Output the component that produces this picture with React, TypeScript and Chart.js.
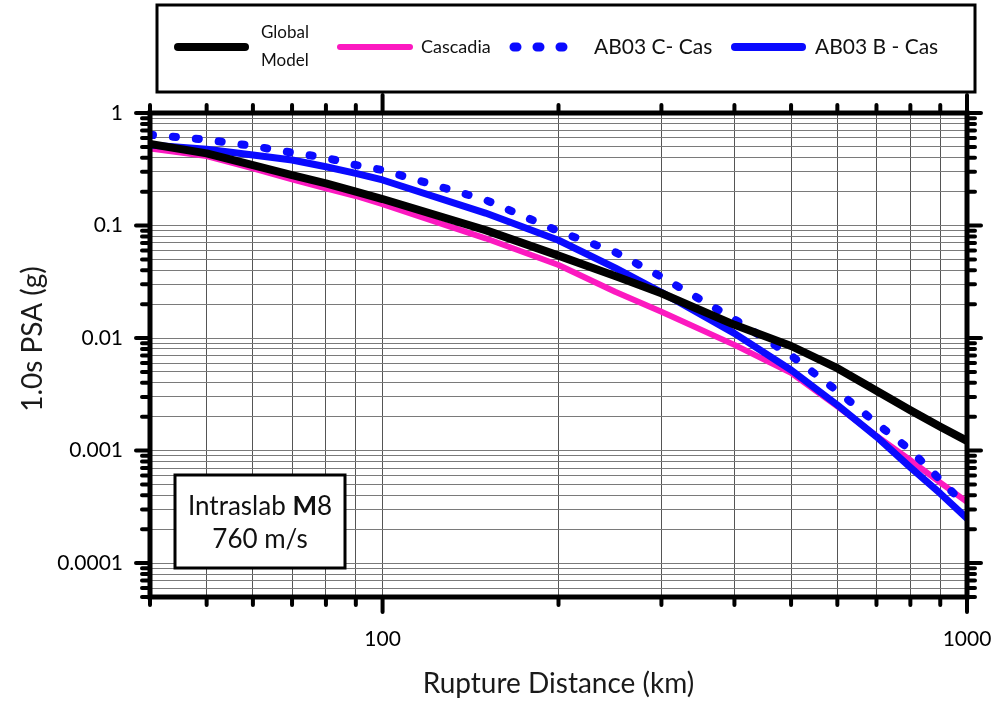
import React, { useEffect, useRef } from 'react';
import { Chart, registerables } from 'chart.js';

Chart.register(...registerables);

// ---------------- data ----------------
const distances = [40, 50, 60, 70, 80, 90, 100, 150, 200, 250, 300, 400, 500, 600, 700, 800, 900, 1000];
const globalModel = [0.53, 0.438, 0.345, 0.281, 0.237, 0.2, 0.172, 0.091, 0.054, 0.0356, 0.025, 0.0131, 0.0085, 0.0054, 0.0034, 0.00228, 0.00163, 0.00122];
const cascadia = [0.485, 0.415, 0.322, 0.257, 0.214, 0.183, 0.155, 0.077, 0.0446, 0.0258, 0.0171, 0.0087, 0.0049, 0.00247, 0.00135, 0.00082, 0.00052, 0.00035];
const ab03C = [0.64, 0.58, 0.509, 0.444, 0.4, 0.345, 0.311, 0.169, 0.089, 0.058, 0.035, 0.0147, 0.007, 0.00338, 0.00175, 0.00101, 0.00055, 0.000316];
const ab03B = [0.52, 0.476, 0.423, 0.382, 0.333, 0.291, 0.254, 0.129, 0.074, 0.042, 0.0255, 0.011, 0.0052, 0.00254, 0.00133, 0.00071, 0.000416, 0.00025];

const seriesNames = ['Global Model', 'Cascadia', 'AB03 C- Cas', 'AB03 B - Cas'];
const legendLines = [['Global', 'Model'], ['Cascadia'], ['AB03 C- Cas'], ['AB03 B - Cas']];

const xMin = 40;
const xMax = 1000;
const yMin = 0.00005;
const yMax = 1;
const xMajorTicks = [100, 1000];
const xTickLabels = ['100', '1000'];
const yMajorTicks = [1, 0.1, 0.01, 0.001, 0.0001];
const yTickLabels = ['1', '0.1', '0.01', '0.001', '0.0001'];

const xTitle = 'Rupture Distance (km)';
const yTitle = '1.0s PSA (g)';
const boxLine1 = ['Intraslab ', 'M', '8'];
const boxLine2 = '760 m/s';

// ---------------- styles ----------------
const FONT = 'Lato, "Open Sans", sans-serif';
const BLACK = '#000000';
const PINK = '#fc19c0';
const BLUE = '#0a0aff';
const DOT_DASH = [3, 20];

function logTicks(min: number, max: number): number[] {
  const out: number[] = [];
  const e0 = Math.floor(Math.log10(min));
  const e1 = Math.ceil(Math.log10(max));
  for (let e = e0; e <= e1; e++) {
    for (let m = 1; m <= 9; m++) {
      const v = Number((m * Math.pow(10, e)).toPrecision(12));
      if (v >= min * 0.9999 && v <= max * 1.0001) out.push(v);
    }
  }
  return out;
}

const xGrid = logTicks(xMin, xMax);
const yGrid = logTicks(yMin, yMax);

function near(a: number, b: number) {
  return Math.abs(a - b) <= Math.abs(b) * 1e-6;
}
function isMajor(v: number, list: number[]) {
  return list.some((m) => near(v, m));
}

const decorPlugin = {
  id: 'decor',
  afterDraw(chart: any) {
    const ctx: CanvasRenderingContext2D = chart.ctx;
    const { left, right, top, bottom } = chart.chartArea;
    const xs = chart.scales.x;
    const ys = chart.scales.y;
    ctx.save();

    // annotation box
    const bx = 175, by = 475, bw = 170, bh = 93;
    ctx.fillStyle = '#ffffff';
    ctx.fillRect(bx, by, bw, bh);
    ctx.strokeStyle = BLACK;
    ctx.lineWidth = 3;
    ctx.strokeRect(bx, by, bw, bh);
    ctx.fillStyle = '#111';
    ctx.textBaseline = 'middle';
    const f = '26px ' + FONT;
    const fb = 'bold 26px ' + FONT;
    ctx.font = f;
    const w0 = ctx.measureText(boxLine1[0]).width;
    ctx.font = fb;
    const w1 = ctx.measureText(boxLine1[1]).width;
    ctx.font = f;
    const w2 = ctx.measureText(boxLine1[2]).width;
    let tx = bx + bw / 2 - (w0 + w1 + w2) / 2;
    ctx.textAlign = 'left';
    ctx.font = f;
    ctx.fillText(boxLine1[0], tx, 507);
    tx += w0;
    ctx.font = fb;
    ctx.fillText(boxLine1[1], tx, 507);
    tx += w1;
    ctx.font = f;
    ctx.fillText(boxLine1[2], tx, 507);
    ctx.textAlign = 'center';
    ctx.fillText(boxLine2, bx + bw / 2, 540);

    // frame
    ctx.strokeStyle = BLACK;
    ctx.lineWidth = 5;
    ctx.lineCap = 'butt';
    ctx.strokeRect(left, top, right - left, bottom - top);

    // tick marks
    ctx.lineWidth = 4;
    ctx.lineCap = 'round';
    ctx.beginPath();
    for (const v of xGrid) {
      const px = xs.getPixelForValue(v);
      const major = isMajor(v, xMajorTicks);
      ctx.moveTo(px, bottom);
      ctx.lineTo(px, bottom + (major ? 15 : 8));
      ctx.moveTo(px, top);
      ctx.lineTo(px, top - (major ? 18 : 8));
    }
    for (const v of yGrid) {
      const py = ys.getPixelForValue(v);
      const len = isMajor(v, yMajorTicks) ? 14 : 8;
      ctx.moveTo(left, py);
      ctx.lineTo(left - len, py);
      ctx.moveTo(right, py);
      ctx.lineTo(right + len, py);
    }
    ctx.stroke();

    // y title
    ctx.save();
    ctx.translate(33, 339);
    ctx.rotate(-Math.PI / 2);
    ctx.font = '28px ' + FONT;
    ctx.fillStyle = '#1a1a1a';
    ctx.textAlign = 'center';
    ctx.textBaseline = 'middle';
    ctx.fillText(yTitle, 0, 0);
    ctx.restore();

    // legend
    const lx = 157, ly = 5, lw = 818, lh = 87;
    ctx.lineWidth = 3;
    ctx.lineCap = 'butt';
    ctx.strokeStyle = BLACK;
    ctx.strokeRect(lx, ly, lw, lh);
    const cy = 47;
    const items = [
      { x0: 178, x1: 245, color: BLACK, width: 8, dash: [] as number[], tx: 261, size: 17 },
      { x0: 340, x1: 410, color: PINK, width: 6, dash: [] as number[], tx: 421, size: 18 },
      { x0: 514, x1: 572, color: BLUE, width: 9, dash: DOT_DASH, tx: 594, size: 21 },
      { x0: 735, x1: 802, color: BLUE, width: 8, dash: [] as number[], tx: 815, size: 21 },
    ];
    items.forEach((it, i) => {
      ctx.beginPath();
      ctx.strokeStyle = it.color;
      ctx.lineWidth = it.width;
      ctx.lineCap = 'round';
      ctx.setLineDash(it.dash);
      ctx.moveTo(it.x0, cy);
      ctx.lineTo(it.x1, cy);
      ctx.stroke();
      ctx.setLineDash([]);
      ctx.fillStyle = '#111';
      ctx.font = it.size + 'px ' + FONT;
      ctx.textAlign = 'left';
      ctx.textBaseline = 'middle';
      const lines = legendLines[i];
      if (lines.length === 1) {
        ctx.fillText(lines[0], it.tx, cy);
      } else {
        ctx.fillText(lines[0], it.tx, cy - 14);
        ctx.fillText(lines[1], it.tx, cy + 14);
      }
    });

    ctx.restore();
  },
};

export default function App() {
  const ref = useRef<HTMLCanvasElement>(null);
  useEffect(() => {
    if (!ref.current) return;
    const mk = (arr: number[]) => distances.map((d, i) => ({ x: d, y: arr[i] }));
    const chart = new Chart(ref.current, {
      type: 'line',
      data: {
        datasets: [
          { label: seriesNames[0], data: mk(globalModel), borderColor: BLACK, borderWidth: 8, pointRadius: 0, borderJoinStyle: 'round', borderCapStyle: 'round', tension: 0 },
          { label: seriesNames[3], data: mk(ab03B), borderColor: BLUE, borderWidth: 7, pointRadius: 0, borderJoinStyle: 'round', borderCapStyle: 'round', tension: 0 },
          { label: seriesNames[2], data: mk(ab03C), borderColor: BLUE, borderWidth: 8, pointRadius: 0, borderDash: DOT_DASH, borderCapStyle: 'round', borderJoinStyle: 'round', tension: 0 },
          { label: seriesNames[1], data: mk(cascadia), borderColor: PINK, borderWidth: 6, pointRadius: 0, borderJoinStyle: 'round', borderCapStyle: 'round', tension: 0 },
        ],
      },
      options: {
        animation: false,
        responsive: false,
        devicePixelRatio: 1,
        events: [],
        layout: { padding: { top: 113, right: 27, left: 0, bottom: 0 } },
        plugins: { legend: { display: false }, tooltip: { enabled: false }, title: { display: false } },
        scales: {
          x: {
            type: 'logarithmic',
            min: xMin,
            max: xMax,
            afterBuildTicks: (s: any) => {
              s.ticks = xGrid.map((v) => ({ value: v }));
            },
            afterFit: (s: any) => {
              s.height = 108;
              s.paddingLeft = 0;
              s.paddingRight = 0;
            },
            ticks: {
              autoSkip: false,
              maxRotation: 0,
              minRotation: 0,
              padding: 30,
              color: '#000',
              font: { size: 21, family: FONT },
              callback: (v: any) => {
                const i = xMajorTicks.findIndex((m) => near(Number(v), m));
                return i >= 0 ? xTickLabels[i] : '';
              },
            },
            grid: { color: '#555555', lineWidth: 1, drawTicks: false },
            border: { display: false },
            title: { display: true, text: xTitle, color: '#1a1a1a', font: { size: 28, family: FONT }, padding: { top: 0, bottom: 4 } },
          },
          y: {
            type: 'logarithmic',
            min: yMin,
            max: yMax,
            afterBuildTicks: (s: any) => {
              s.ticks = yGrid.map((v) => ({ value: v }));
            },
            afterFit: (s: any) => {
              s.width = 150;
              s.paddingTop = 0;
              s.paddingBottom = 0;
            },
            ticks: {
              autoSkip: false,
              padding: 27,
              color: '#000',
              font: { size: 21, family: FONT },
              callback: (v: any) => {
                const i = yMajorTicks.findIndex((m) => near(Number(v), m));
                return i >= 0 ? yTickLabels[i] : '';
              },
            },
            grid: { color: '#7a7a7a', lineWidth: 1, drawTicks: false },
            border: { display: false },
          },
        },
      },
      plugins: [decorPlugin],
    } as any);
    return () => chart.destroy();
  }, []);
  return (
    <div style={{ position: 'fixed', left: 0, top: 0, width: 994, height: 705, background: '#ffffff' }}>
      <canvas ref={ref} width={994} height={705} style={{ width: 994, height: 705, display: 'block' }} />
    </div>
  );
}
